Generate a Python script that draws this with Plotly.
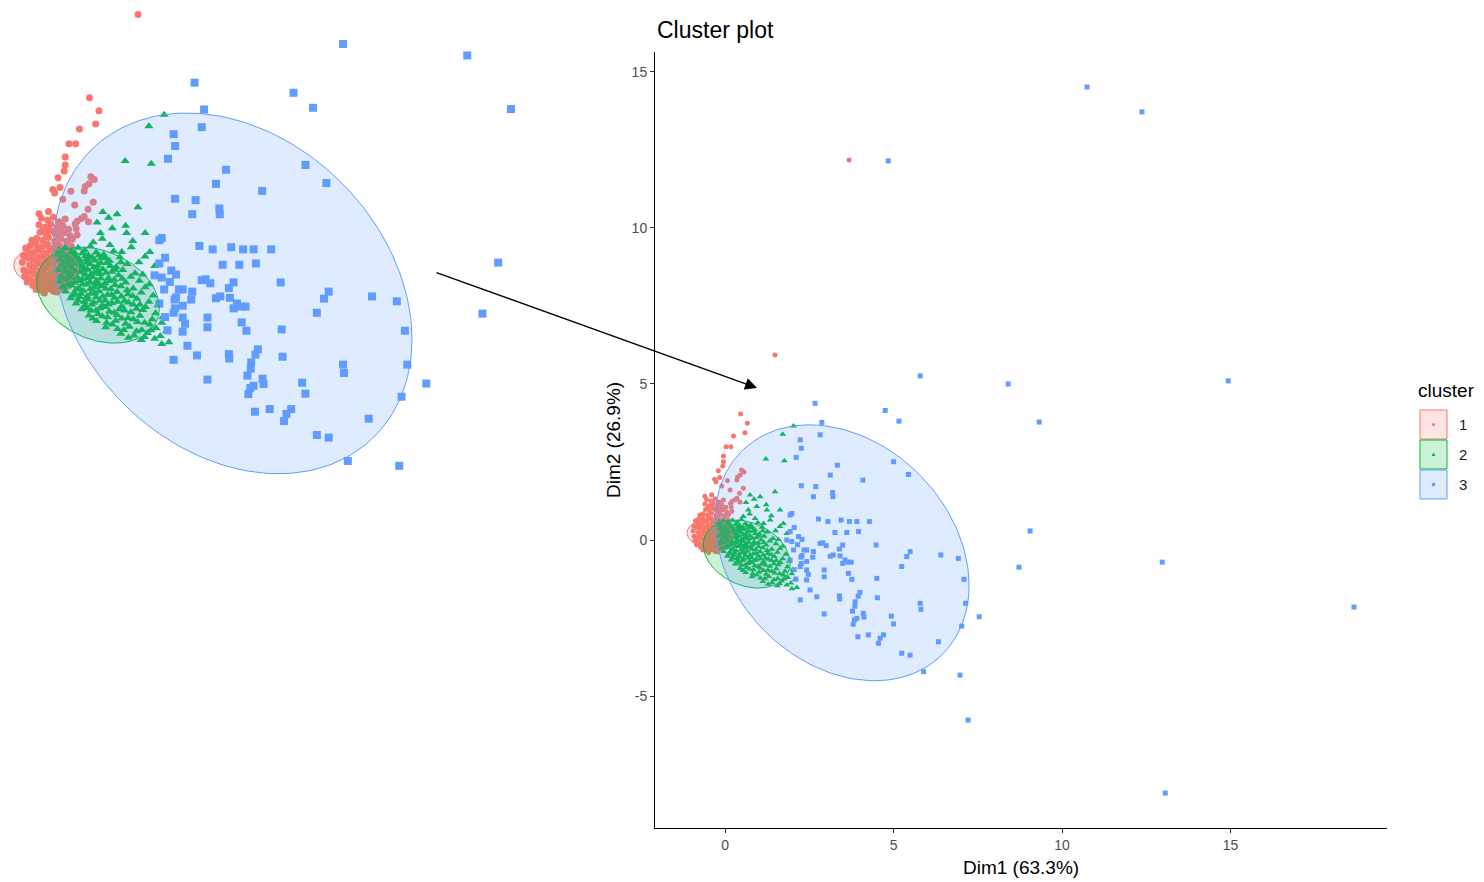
import numpy as np
import plotly.graph_objects as go

# ---------------- data (Dim1, Dim2) ----------------
cluster1_pts = [
    (-0.55,1.30),(-0.42,1.25),(-0.30,1.32),(-0.18,1.22),(-0.05,1.28),
    (-0.60,1.15),(-0.47,1.10),(-0.35,1.17),(-0.22,1.08),(-0.10,1.13),(0.02,1.05),
    (-0.58,0.98),(-0.45,0.93),(-0.32,1.00),(-0.20,0.92),(-0.07,0.97),(0.05,0.90),
    (-0.65,0.84),(-0.52,0.80),(-0.40,0.86),(-0.27,0.78),(-0.14,0.83),(-0.02,0.77),(0.10,0.82),
    (-0.78,0.68),(-0.66,0.71),(-0.53,0.65),(-0.41,0.70),(-0.29,0.63),(-0.16,0.68),(-0.04,0.62),(0.08,0.66),
    (-0.82,0.55),(-0.70,0.52),(-0.57,0.58),(-0.45,0.50),(-0.33,0.56),(-0.20,0.49),(-0.08,0.54),(0.04,0.47),
    (-0.84,0.40),(-0.72,0.36),(-0.60,0.42),(-0.48,0.34),(-0.36,0.40),(-0.24,0.33),(-0.11,0.38),(0.02,0.31),(0.12,0.36),
    (-0.80,0.24),(-0.68,0.20),(-0.55,0.26),(-0.43,0.18),(-0.31,0.24),(-0.19,0.17),(-0.06,0.22),(0.07,0.15),
    (-0.83,0.08),(-0.71,0.04),(-0.58,0.10),(-0.46,0.02),(-0.34,0.08),(-0.22,0.01),(-0.09,0.06),(0.04,-0.01),(0.15,0.05),
    (-0.79,-0.08),(-0.66,-0.12),(-0.54,-0.06),(-0.41,-0.14),(-0.29,-0.08),(-0.17,-0.15),(-0.04,-0.09),(0.09,-0.13),
    (-0.73,-0.23),(-0.61,-0.27),(-0.48,-0.21),(-0.36,-0.29),(-0.24,-0.22),(-0.11,-0.28),(0.02,-0.24),
    (-0.55,-0.34),(-0.42,-0.31),(-0.30,-0.36),(-0.17,-0.32),
    (-0.95,0.30),(-0.92,0.12),(-0.90,-0.02),(-0.93,0.45),(-0.88,0.62),(-0.75,0.80),
    (-0.76,0.46),(-0.64,0.31),(-0.51,0.45),(-0.39,0.28),(-0.27,0.44),(-0.14,0.27),(-0.02,0.40),
    (-0.74,0.14),(-0.62,-0.01),(-0.50,0.14),(-0.38,-0.02),(-0.26,0.13),(-0.13,-0.03),(-0.01,0.11),
    (-0.85,-0.15),(-0.70,-0.18),(-0.58,-0.14),(-0.45,-0.04),(-0.34,-0.18),(-0.21,-0.06),(-0.08,-0.20),
    (-0.62,0.60),(-0.49,0.72),(-0.37,0.61),(-0.24,0.74),(-0.11,0.58),
    (-0.52,1.02),(-0.39,1.06),(-0.26,0.95),(-0.13,1.02),
    (-0.66,-0.32),(-0.49,-0.40),(-0.23,-0.38),
    (0.46,4.04),(0.66,3.74),(0.59,3.44),(0.25,3.33),(0.03,2.99),(0.17,2.99),(-0.05,2.69),(-0.05,2.51),
    (-0.07,2.37),(-0.20,2.22),(0.49,2.24),(0.56,2.18),(0.45,2.08),(0.37,2.02),(-0.27,1.87),(-0.31,1.95),
    (0.35,1.92),(0.43,1.50),(0.35,1.34),(0.20,1.23),(-0.10,1.73),(0.15,1.60),(0.54,1.66),(0.07,1.91),
    (-0.16,2.00),(0.29,1.29),(0.44,1.22),(0.16,1.17),(-0.60,1.40),(-0.40,1.45),(0.18,1.06),(0.20,0.92),
    (1.48,5.93),(3.68,12.18),
]

cluster2_pts = [
    (-0.18,0.58),(-0.05,0.62),(0.08,0.55),(0.22,0.63),(0.36,0.57),(0.48,0.66),
    (-0.20,0.47),(-0.08,0.44),(0.05,0.49),(0.17,0.42),(0.31,0.50),(0.44,0.45),(0.60,0.52),(0.76,0.47),(0.97,0.55),
    (-0.16,0.36),(0.01,0.33),(0.13,0.38),(0.27,0.31),(0.40,0.37),(0.57,0.34),(0.71,0.39),(0.88,0.33),(1.10,0.41),
    (-0.11,0.24),(0.04,0.21),(0.19,0.27),(0.33,0.19),(0.47,0.25),(0.63,0.22),(0.82,0.28),(1.02,0.19),(1.25,0.26),
    (-0.19,0.12),(-0.03,0.09),(0.11,0.15),(0.26,0.07),(0.42,0.13),(0.56,0.06),(0.74,0.14),(0.93,0.08),(1.16,0.12),(1.42,0.05),
    (-0.13,-0.02),(0.06,0.01),(0.21,-0.05),(0.37,0.02),(0.52,-0.04),(0.68,0.03),(0.86,-0.06),(1.07,0.00),(1.33,-0.03),(1.58,0.02),
    (-0.17,-0.14),(0.00,-0.11),(0.15,-0.17),(0.31,-0.09),(0.47,-0.15),(0.61,-0.12),(0.79,-0.18),(0.98,-0.10),(1.22,-0.16),(1.51,-0.12),(1.72,-0.20),
    (-0.10,-0.26),(0.08,-0.23),(0.24,-0.29),(0.40,-0.21),(0.56,-0.27),(0.72,-0.24),(0.91,-0.31),(1.12,-0.25),(1.38,-0.30),(1.63,-0.27),
    (-0.04,-0.37),(0.15,-0.41),(0.33,-0.35),(0.49,-0.42),(0.66,-0.36),(0.84,-0.44),(1.04,-0.38),(1.27,-0.43),(1.55,-0.39),(1.80,-0.46),
    (0.07,-0.52),(0.25,-0.49),(0.43,-0.55),(0.60,-0.50),(0.79,-0.57),(0.99,-0.51),(1.20,-0.58),(1.46,-0.53),(1.71,-0.60),
    (0.18,-0.64),(0.37,-0.68),(0.55,-0.62),(0.73,-0.69),(0.93,-0.63),(1.14,-0.70),(1.38,-0.66),(1.64,-0.72),(1.90,-0.68),
    (0.30,-0.77),(0.49,-0.80),(0.68,-0.75),(0.88,-0.82),(1.09,-0.77),(1.33,-0.84),(1.58,-0.79),(1.85,-0.86),
    (0.45,-0.91),(0.64,-0.88),(0.84,-0.95),(1.04,-0.90),(1.27,-0.97),(1.52,-0.92),(1.78,-1.00),(2.00,-0.95),
    (0.61,-1.04),(0.82,-1.08),(1.01,-1.03),(1.22,-1.10),(1.47,-1.06),(1.73,-1.12),(1.98,-1.08),
    (0.80,-1.18),(1.05,-1.22),(1.30,-1.17),(1.56,-1.24),(1.86,-1.20),(2.08,-1.27),
    (1.12,-1.33),(1.40,-1.37),(1.68,-1.31),(1.95,-1.38),
    (1.55,-1.47),(1.83,-1.44),(2.13,-1.52),(1.98,-1.56),
    (-0.12,0.53),(0.02,0.41),(0.15,0.50),(0.24,0.37),(0.38,0.44),(0.52,0.40),(0.66,0.45),(0.80,0.40),
    (-0.07,0.29),(0.11,0.25),(0.26,0.22),(0.40,0.29),(0.55,0.18),(0.70,0.28),(0.90,0.21),(1.12,0.30),
    (-0.08,0.16),(0.05,0.05),(0.18,0.10),(0.33,0.11),(0.49,0.02),(0.64,0.10),(0.81,0.06),(1.00,0.13),
    (-0.06,-0.07),(0.09,-0.06),(0.24,-0.13),(0.42,-0.06),(0.57,-0.18),(0.70,-0.07),(0.88,-0.13),(1.15,-0.08),
    (0.02,-0.19),(0.18,-0.32),(0.32,-0.20),(0.48,-0.31),(0.64,-0.21),(0.80,-0.30),(1.00,-0.22),(1.25,-0.34),
    (0.10,-0.45),(0.28,-0.42),(0.41,-0.48),(0.57,-0.40),(0.74,-0.48),(0.92,-0.44),(1.13,-0.48),(1.37,-0.47),
    (0.22,-0.57),(0.35,-0.60),(0.51,-0.66),(0.68,-0.58),(0.86,-0.66),(1.05,-0.60),(1.28,-0.62),(1.52,-0.66),
    (0.40,-0.74),(0.60,-0.80),(0.79,-0.72),(0.98,-0.85),(1.20,-0.80),(1.45,-0.76),
    (0.53,-0.98),(0.73,-0.93),(0.94,-1.12),(1.14,-0.98),(1.38,-1.00),(1.62,-1.08),
    (1.18,-1.24),(1.45,-1.27),(1.75,-1.25),(1.28,-1.42),(1.62,-1.40),
    (2.03,3.65),(1.71,3.39),(1.21,2.60),(1.76,2.54),(0.74,1.44),(1.04,1.39),(1.48,1.55),(0.94,1.07),
    (1.24,0.96),(1.63,0.96),(0.54,0.75),(1.34,0.64),(1.63,0.43),(1.83,0.21),(1.14,0.53),(0.89,0.69),
    (0.69,0.96),(0.86,1.31),(1.22,1.13),(1.37,0.78),(0.73,0.83),(1.73,0.53),(0.62,1.20),(1.50,0.30),
]

cluster3_pts = [
    (2.67,4.38),(2.87,3.77),(2.82,3.37),(2.23,3.21),(2.26,2.94),(2.11,2.65),(3.33,2.40),(3.12,2.08),
    (5.00,2.51),(5.44,2.10),(4.09,1.92),(2.26,1.74),(2.69,1.71),(3.19,1.52),(3.20,1.39),(2.62,1.39),(1.98,0.85),
    (2.77,0.67),(3.05,0.59),(3.44,0.64),(3.69,0.59),(3.91,0.59),(4.28,0.59),(2.90,-0.09),(3.26,0.24),
    (3.61,0.24),(3.96,0.27),(4.48,-0.16),(5.49,-0.37),(5.39,-0.53),(5.24,-0.85),(6.40,-0.48),(6.92,-0.59),
    (7.09,-1.26),(7.14,-2.03),(7.02,-2.76),(6.33,-3.26),(5.79,-2.03),(5.81,-2.22),(4.93,-2.44),(5.00,-2.69),
    (4.50,-1.23),(4.52,-1.85),(4.00,-1.68),(3.76,-1.26),(3.66,-1.07),(3.49,-0.16),(3.41,-0.51),(3.56,-0.64),
    (3.21,-0.48),(3.12,-0.52),(2.94,-0.96),(2.94,-1.18),(2.42,-0.96),(2.42,-0.69),(2.82,-0.11),(2.62,-0.37),
    (2.34,-0.32),
    (2.52,-1.60),(2.23,-1.92),(2.94,-2.37),(3.39,-1.79),(3.86,-1.98),(3.91,-2.51),(3.84,-2.56),(4.10,-2.35),
    (4.25,-3.04),(4.60,-3.15),(4.70,-3.04),(3.94,-3.10),(5.24,-3.63),(5.49,-3.69),(5.89,-4.22),(6.97,-4.33),
    (7.54,-2.46),
    (1.93,0.80),(1.93,0.27),(2.18,0.11),(1.83,0.00),(2.03,-0.32),(1.93,-0.64),(2.42,-0.32),(2.23,-0.85),
    (2.47,-1.10),(2.42,-1.28),(2.72,-1.82),(2.05,0.40),(2.15,-0.15),(1.98,-0.05),(2.28,0.02),(2.25,-0.55),
    (2.05,-0.95),(2.60,-0.55),(2.10,-1.25),
    (3.00,-0.18),(3.39,-0.29),(3.64,-0.71),(3.74,-0.71),(3.49,-0.75),(2.26,-0.75),(2.28,-0.50),(3.78,-2.28),
    (3.80,-2.70),(3.40,-1.89),(3.85,-2.12),(4.12,-2.47),(4.55,-3.31),(3.95,-1.80),
    (5.79,5.26),(4.75,4.15),(5.16,3.81),(8.40,5.00),(9.32,3.78),(9.05,0.29),(8.72,-0.87),(7.21,-5.77),
    (10.74,14.52),(12.37,13.72),(4.84,12.15),(14.93,5.10),(12.97,-0.71),(18.66,-2.15),(13.06,-8.11),
]

cluster_labels = ["1", "2", "3"]
cluster_colors = ["#F8766D", "#00BA38", "#619CFF"]
cluster_fills = ["rgba(248,118,109,0.2)", "rgba(0,186,56,0.2)", "rgba(97,156,255,0.2)"]
cluster_symbols = ["circle", "triangle-up", "square"]

# ellipse parameters: centre x, centre y, var x, var y, cov xy
ellipse_cx = [-0.45, 0.64, 3.47]
ellipse_cy = [0.20, -0.45, -0.41]
ellipse_sxx = [0.46, 1.66, 14.21]
ellipse_syy = [0.20, 1.19, 16.81]
ellipse_sxy = [-0.02, -0.38, -3.94]

x_ticks = [0, 5, 10, 15]
x_tick_labels = ["0", "5", "10", "15"]
y_ticks = [-5, 0, 5, 10, 15]
y_tick_labels = ["-5", "0", "5", "10", "15"]

# ---------------- figure ----------------
W, H = 1484, 882
FONT = "Liberation Sans, Arial, sans-serif"

fig = go.Figure()
all_pts = [cluster1_pts, cluster2_pts, cluster3_pts]

def ellipse_xy(i):
    S = np.array([[ellipse_sxx[i], ellipse_sxy[i]], [ellipse_sxy[i], ellipse_syy[i]]])
    L = np.linalg.cholesky(S)
    t = np.linspace(0, 2 * np.pi, 200)
    pts = L @ np.vstack([np.cos(t), np.sin(t)])
    return pts[0] + ellipse_cx[i], pts[1] + ellipse_cy[i]

for xa, ya, sizes in (("x", "y", [5, 6, 5]), ("x2", "y2", [7, 8, 8])):
    for i, pts in enumerate(all_pts):
        xs = [p[0] for p in pts]
        ys = [p[1] for p in pts]
        fig.add_trace(go.Scatter(
            x=xs, y=ys, mode="markers", xaxis=xa, yaxis=ya, showlegend=False,
            marker=dict(symbol=cluster_symbols[i], size=sizes[i], color=cluster_colors[i],
                        line=dict(width=0)),
            hoverinfo="skip"))
    for i in range(3):
        ex, ey = ellipse_xy(i)
        fig.add_trace(go.Scatter(
            x=ex, y=ey, mode="lines", fill="toself", xaxis=xa, yaxis=ya, showlegend=False,
            fillcolor=cluster_fills[i], line=dict(color=cluster_colors[i], width=1),
            hoverinfo="skip"))

axis_common = dict(showgrid=False, zeroline=False, showline=True, linecolor="black",
                   linewidth=1, ticks="outside", ticklen=4, tickcolor="#333333",
                   tickfont=dict(family=FONT, size=14, color="#4D4D4D"), automargin=False)

fig.update_layout(
    width=W, height=H, margin=dict(l=0, r=0, t=0, b=0),
    paper_bgcolor="white", plot_bgcolor="rgba(0,0,0,0)",
    xaxis=dict(domain=[655 / W, 1387 / W], range=[-2.08, 19.64], tickvals=x_ticks,
               ticktext=x_tick_labels, **axis_common),
    yaxis=dict(domain=[1 - 828 / H, 1 - 52 / H], range=[-9.23, 15.64], tickvals=y_ticks,
               ticktext=y_tick_labels, **axis_common),
    xaxis2=dict(domain=[0, 540 / W], range=[-1.42, 9.93], visible=False),
    yaxis2=dict(domain=[1 - 490 / H, 1], range=[-4.88, 6.26], visible=False),
    font=dict(family=FONT),
)

ann = []
ann.append(dict(text="Cluster plot", x=655 / W, y=1 - 30 / H, xref="paper", yref="paper",
                xanchor="left", yanchor="middle", showarrow=False,
                font=dict(family=FONT, size=23, color="black")))
ann.append(dict(text="Dim1 (63.3%)", x=1021 / W, y=1 - 867 / H, xref="paper", yref="paper",
                xanchor="center", yanchor="middle", showarrow=False,
                font=dict(family=FONT, size=19, color="black")))
ann.append(dict(text="Dim2 (26.9%)", x=613 / W, y=1 - 440 / H, xref="paper", yref="paper",
                xanchor="center", yanchor="middle", showarrow=False, textangle=-90,
                font=dict(family=FONT, size=19, color="black")))
ann.append(dict(text="cluster", x=1416 / W, y=1 - 390 / H, xref="paper", yref="paper",
                xanchor="left", yanchor="middle", showarrow=False,
                font=dict(family=FONT, size=19, color="black")))
# arrow from the enlarged view to the main panel
ann.append(dict(text="", x=757 / W, y=1 - 388 / H, xref="paper", yref="paper",
                ax=435 - 757, ay=272 - 388, axref="pixel", ayref="pixel",
                showarrow=True, arrowhead=2, arrowsize=1.7, arrowwidth=1.4, arrowcolor="black"))

shapes = []
box_tops = [410, 440, 470]
for i in range(3):
    top = box_tops[i]
    bot = top + 29
    cy = (top + bot) / 2
    shapes.append(dict(type="rect", xref="paper", yref="paper",
                       x0=1420 / W, x1=1447 / W, y0=1 - bot / H, y1=1 - top / H,
                       fillcolor=cluster_fills[i], line=dict(color=cluster_colors[i], width=1)))
    cx = 1433.5
    if i == 0:
        shapes.append(dict(type="circle", xref="paper", yref="paper",
                           x0=(cx - 1.6) / W, x1=(cx + 1.6) / W, y0=1 - (cy + 1.6) / H, y1=1 - (cy - 1.6) / H,
                           fillcolor=cluster_colors[i], line=dict(width=0)))
    elif i == 1:
        path = "M {:.5f},{:.5f} L {:.5f},{:.5f} L {:.5f},{:.5f} Z".format(
            (cx - 2) / W, 1 - (cy + 1.6) / H, (cx + 2) / W, 1 - (cy + 1.6) / H, cx / W, 1 - (cy - 2) / H)
        shapes.append(dict(type="path", xref="paper", yref="paper", path=path,
                           fillcolor=cluster_colors[i], line=dict(width=0)))
    else:
        shapes.append(dict(type="rect", xref="paper", yref="paper",
                           x0=(cx - 1.6) / W, x1=(cx + 1.6) / W, y0=1 - (cy + 1.6) / H, y1=1 - (cy - 1.6) / H,
                           fillcolor=cluster_colors[i], line=dict(width=0)))
    ann.append(dict(text=cluster_labels[i], x=1457 / W, y=1 - cy / H, xref="paper", yref="paper",
                    xanchor="left", yanchor="middle", showarrow=False,
                    font=dict(family=FONT, size=15, color="#1A1A1A")))

fig.update_layout(annotations=ann, shapes=shapes)
fig.write_html("out.html")
